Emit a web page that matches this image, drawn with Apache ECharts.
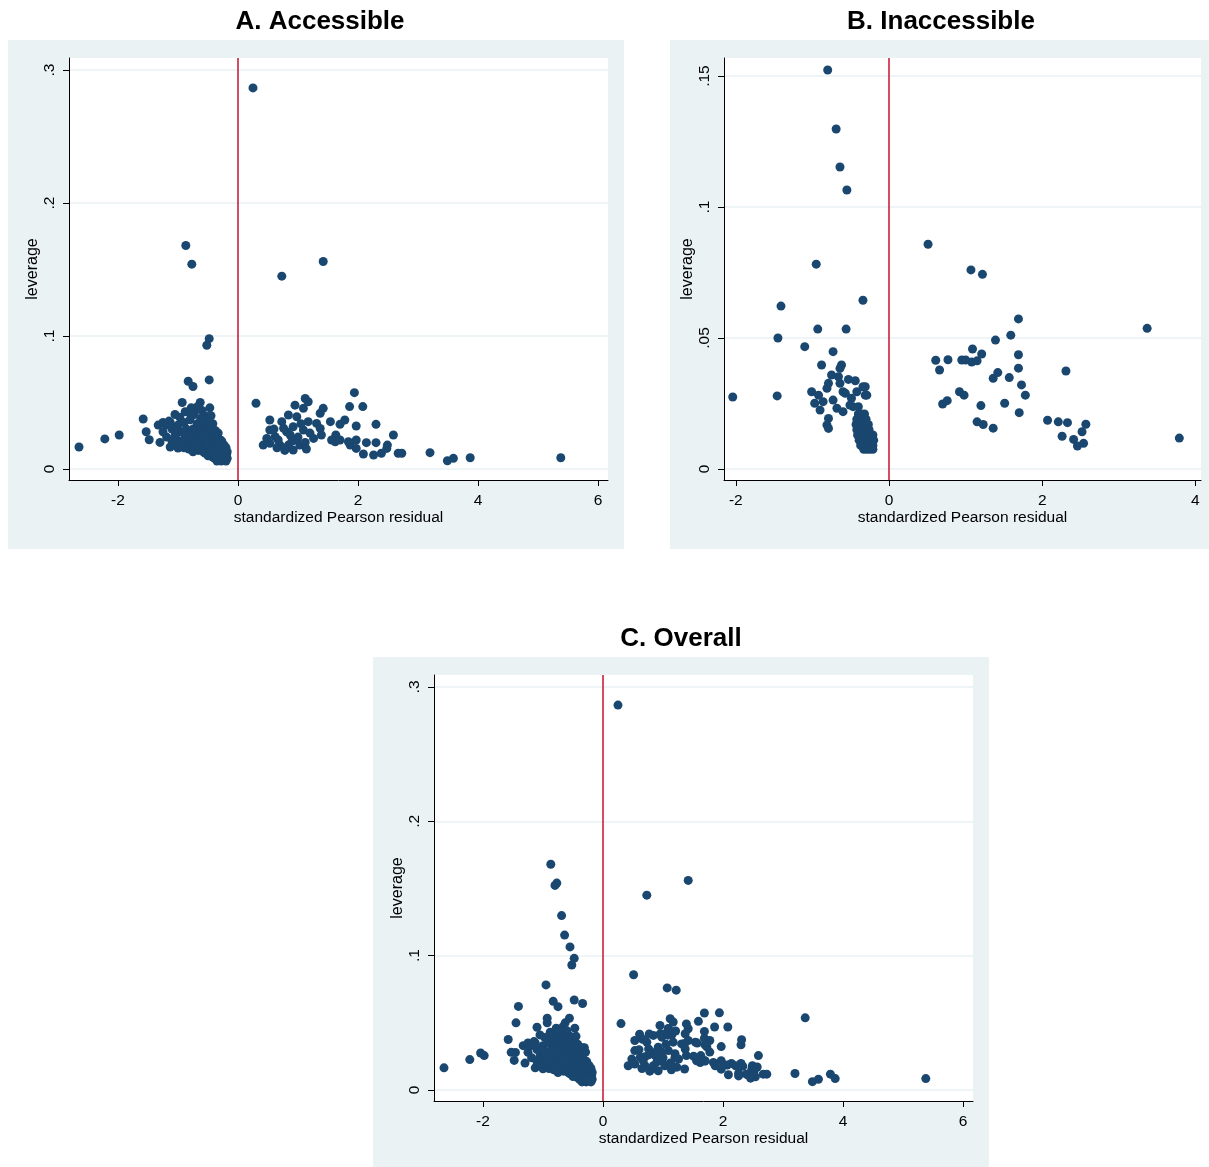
<!DOCTYPE html>
<html><head><meta charset="utf-8">
<script src="https://cdn.jsdelivr.net/npm/echarts@6/dist/echarts.min.js"></script>
<style>html,body{margin:0;padding:0;background:#fff}#c{width:1209px;height:1167px}</style>
</head><body><div id="c"></div>
<script>
// ---- Data (standardized Pearson residual, leverage) ----
const panelTitles = ['A. Accessible', 'B. Inaccessible', 'C. Overall'];
const xAxisTitle = 'standardized Pearson residual';
const yAxisTitle = 'leverage';

const xTicksA = [-2, 0, 2, 4, 6];
const xLabelsA = ['-2', '0', '2', '4', '6'];
const yTicksA = [0, 0.1, 0.2, 0.3];
const yLabelsA = ['0', '.1', '.2', '.3'];
const xTicksB = [-2, 0, 2, 4];
const xLabelsB = ['-2', '0', '2', '4'];
const yTicksB = [0, 0.05, 0.1, 0.15];
const yLabelsB = ['0', '.05', '.1', '.15'];

// Accessible: isolated points, left side
const accessibleLeft = [
  [-2.65,0.0165],[-2.22,0.0226],[-1.98,0.0256],[-1.58,0.0376],[-1.53,0.028],[-1.48,0.022],
  [-0.93,0.05],[-0.63,0.05],[-0.47,0.046],[-1.05,0.041],[-0.8,0.042],[-0.72,0.044],
  [-1.33,0.033],[-1.25,0.035],[-1.3,0.02],[-1.13,0.0165],[-1.0,0.0158],[-1.13,0.035],[-1.02,0.022],[-1.19,0.024],
  [-0.87,0.168],[-0.77,0.154],[-0.48,0.098],[-0.52,0.093],[-0.83,0.066],[-0.75,0.062],[-0.48,0.067]
];
// Accessible: dense cluster just left of zero
const accessibleCluster = [
  [-1.25,0.028],[-1.2,0.033],[-1.15,0.036],[-1.1,0.03],[-1.05,0.025],[-1.0,0.033],[-0.97,0.039],[-0.95,0.028],
  [-0.93,0.021],[-0.9,0.035],[-0.88,0.043],[-0.86,0.03],[-0.85,0.018],[-0.83,0.025],[-0.8,0.037],[-0.78,0.046],
  [-0.77,0.02],[-0.75,0.03],[-0.73,0.041],[-0.72,0.016],[-0.7,0.025],[-0.68,0.034],[-0.67,0.047],[-0.65,0.02],
  [-0.63,0.029],[-0.62,0.038],[-0.6,0.015],[-0.6,0.044],[-0.58,0.024],[-0.57,0.033],[-0.55,0.012],[-0.55,0.04],
  [-0.53,0.019],[-0.52,0.028],[-0.5,0.036],[-0.5,0.014],[-0.48,0.023],[-0.47,0.031],[-0.46,0.01],[-0.45,0.04],
  [-0.44,0.018],[-0.43,0.027],[-0.42,0.034],[-0.41,0.012],[-0.4,0.022],[-0.39,0.008],[-0.38,0.029],[-0.37,0.016],
  [-0.36,0.024],[-0.35,0.011],[-0.34,0.02],[-0.33,0.027],[-0.32,0.007],[-0.31,0.014],[-0.3,0.022],[-0.3,0.018],
  [-0.29,0.01],[-0.28,0.017],[-0.27,0.013],[-0.27,0.021],[-0.26,0.008],[-0.25,0.015],[-0.24,0.011],[-0.23,0.018],
  [-0.22,0.009],[-0.21,0.013],[-0.2,0.016],[-0.19,0.011],[-0.18,0.008],[-0.18,0.013],[-0.2,0.006],[-0.24,0.007],
  [-0.28,0.006],[-0.35,0.006],[-0.42,0.009],[-0.5,0.01],[-0.58,0.013],[-0.66,0.014],[-0.75,0.013],[-0.82,0.015],
  [-0.9,0.016],[-0.42,0.016],[-0.38,0.02],[-0.34,0.015],[-0.46,0.026],[-0.52,0.022],[-0.56,0.018],[-0.62,0.022],
  [-0.68,0.019],[-0.7,0.028],[-0.64,0.033],[-0.58,0.037],[-0.54,0.032],[-0.48,0.035],[-0.44,0.031],[-0.4,0.026],
  [-0.36,0.019],[-0.32,0.018],[-0.26,0.012],[-0.22,0.014],[-0.3,0.012],[-0.38,0.013],[-0.45,0.014],[-0.5,0.018],
  [-0.55,0.024],[-0.62,0.026],[-0.76,0.024],[-0.8,0.021],[-0.88,0.024],[-0.95,0.018],[-1.05,0.019],[-1.1,0.021],
  [-1.02,0.029]
];
// Accessible: right side
const accessibleRight = [
  [0.25,0.2865],[0.73,0.145],[1.42,0.156],[0.3,0.0494],
  [1.94,0.0574],[1.86,0.0469],[2.08,0.0469],[2.3,0.0336],[1.97,0.0323],[1.54,0.0356],[1.7,0.0336],[1.78,0.0368],
  [2.59,0.0256],[2.14,0.0198],[2.3,0.0198],[2.49,0.018],[2.09,0.0113],[2.26,0.0105],[2.39,0.0118],[2.67,0.0118],
  [1.63,0.0256],[1.62,0.0205],[1.7,0.0218],[1.84,0.0205],[1.97,0.0218],[1.97,0.0155],[1.87,0.018],[1.56,0.0218],
  [2.48,0.0155],[2.73,0.0118],[3.2,0.0123],[3.49,0.0062],[3.59,0.008],[3.87,0.0085],[5.38,0.0085],
  [1.12,0.053],[1.17,0.0506],[0.95,0.048],[1.09,0.0456],[1.42,0.0456],[1.37,0.0419],[0.84,0.0406],[0.98,0.0393],
  [0.53,0.0368],[0.73,0.0356],[1.17,0.0356],[1.31,0.0343],[0.92,0.0318],[1.09,0.0293],[1.37,0.0305],[0.53,0.0293],
  [0.81,0.028],[0.87,0.0256],[1.26,0.023],[1.39,0.0256],[0.48,0.023],[0.62,0.0243],[0.42,0.018],[0.53,0.0193],
  [0.7,0.018],[0.84,0.018],[0.92,0.0143],[1.03,0.018],[0.67,0.0218],[0.98,0.0218],[0.76,0.0306],[1.0,0.024],
  [1.12,0.02],[1.2,0.027],[0.6,0.03],[0.9,0.021],[1.05,0.034],[0.65,0.016],[1.14,0.015],[0.78,0.014]
];

// Inaccessible: left side (scattered)
const inaccessibleLeft = [
  [-2.04,0.0275],[-1.41,0.0622],[-1.45,0.05],[-1.46,0.0279],[-0.95,0.0782],[-0.93,0.0534],[-0.56,0.0534],
  [-0.34,0.0644],[-0.8,0.1523],[-0.69,0.1298],[-0.64,0.1153],[-0.55,0.1065],
  [-1.1,0.0467],[-0.73,0.0448],[-0.88,0.0397],[-0.62,0.0397],[-0.64,0.0384],[-0.75,0.0359],[-0.66,0.0352],
  [-0.53,0.0342],[-0.44,0.0337],[-0.79,0.0327],[-0.81,0.0308],[-0.64,0.0327],[-0.6,0.0295],[-1.01,0.0295],
  [-0.92,0.0282],[-0.73,0.0263],[-0.86,0.0257],[-0.97,0.0251],[-0.9,0.0225],[-0.68,0.0232],[-0.79,0.0193],
  [-0.81,0.0168],[-0.79,0.0155],[-0.57,0.0289],[-0.51,0.0244],
  [-0.42,0.0295],[-0.31,0.0282],[-0.49,0.027],[-0.47,0.0238],[-0.34,0.0314],[-0.6,0.0219],[-0.31,0.0314],
  [-0.29,0.0282],[-0.4,0.0238]
];
// Inaccessible: dense strip just left of zero
const inaccessibleCluster = [
  [-0.4,0.021],[-0.36,0.021],[-0.32,0.021],
  [-0.42,0.019],[-0.38,0.019],[-0.34,0.019],[-0.3,0.019],
  [-0.43,0.017],[-0.39,0.017],[-0.35,0.017],[-0.31,0.017],[-0.27,0.017],
  [-0.42,0.015],[-0.38,0.015],[-0.34,0.015],[-0.3,0.015],[-0.26,0.015],
  [-0.41,0.013],[-0.37,0.013],[-0.33,0.013],[-0.29,0.013],[-0.25,0.013],[-0.21,0.013],
  [-0.39,0.011],[-0.35,0.011],[-0.31,0.011],[-0.27,0.011],[-0.23,0.011],[-0.2,0.011],
  [-0.37,0.009],[-0.33,0.009],[-0.29,0.009],[-0.25,0.009],[-0.21,0.009],
  [-0.33,0.0075],[-0.29,0.0075],[-0.25,0.0075],[-0.21,0.0075]
];
// Inaccessible: right side
const inaccessibleRight = [
  [0.51,0.0858],[1.07,0.076],[1.22,0.0743],[1.69,0.0573],[1.59,0.0511],[1.39,0.0492],[3.37,0.0537],
  [1.09,0.0458],[1.21,0.0439],[0.61,0.0415],[0.77,0.0417],[0.95,0.0416],[1.0,0.0416],[1.08,0.0408],[1.15,0.0413],
  [0.66,0.0378],[1.69,0.0436],[1.69,0.0385],[2.31,0.0374],[1.42,0.0368],[1.36,0.0346],[1.57,0.0349],[1.73,0.0321],
  [1.78,0.0282],[0.92,0.0295],[0.98,0.0282],[0.7,0.0248],[0.76,0.0261],[1.2,0.0242],[1.51,0.0251],[1.7,0.0215],
  [1.15,0.018],[1.23,0.017],[1.36,0.0156],[2.07,0.0186],[2.21,0.018],[2.33,0.0177],[2.57,0.0171],[2.52,0.0142],
  [2.26,0.0125],[2.41,0.0113],[2.54,0.0098],[2.46,0.0088],[3.79,0.0118]
];

const accessible = accessibleLeft.concat(accessibleCluster, accessibleRight);
const inaccessible = inaccessibleLeft.concat(inaccessibleCluster, inaccessibleRight);
const overall = accessible.concat(inaccessible);

// ---- Styling / layout ----
const FONT = 'Liberation Sans, Arial, Helvetica, sans-serif';
const BG = '#eaf2f3';
const NAVY = '#1a476f';
const RED = '#c8102e';

function labeler(ticks, labels) {
  return function (v) {
    for (let i = 0; i < ticks.length; i++) if (Math.abs(ticks[i] - v) < 1e-9) return labels[i];
    return '';
  };
}
function xAxisCfg(gi, min, max, ticks, labels) {
  return {
    gridIndex: gi, type: 'value', min: min, max: max,
    name: xAxisTitle, nameLocation: 'middle', nameGap: 30,
    nameTextStyle: { fontFamily: FONT, fontSize: 15.5, color: '#000' },
    axisLine: { show: true, onZero: false, lineStyle: { color: '#000', width: 1 } },
    axisTick: { show: true, length: 6, customValues: ticks, lineStyle: { color: '#000' } },
    axisLabel: { customValues: ticks, formatter: labeler(ticks, labels), margin: 13,
      fontFamily: FONT, fontSize: 15.5, color: '#000' },
    splitLine: { show: false }
  };
}
function yAxisCfg(gi, min, max, ticks, labels) {
  return {
    gridIndex: gi, type: 'value', min: min, max: max,
    name: yAxisTitle, nameLocation: 'middle', nameGap: 28, nameRotate: 90,
    nameTextStyle: { fontFamily: FONT, fontSize: 16, color: '#000' },
    axisLine: { show: true, onZero: false, lineStyle: { color: '#000', width: 1 } },
    axisTick: { show: true, length: 6, customValues: ticks, lineStyle: { color: '#000' } },
    axisLabel: { customValues: ticks, formatter: labeler(ticks, labels), margin: 11, rotate: 90,
      fontFamily: FONT, fontSize: 15.5, color: '#000' },
    splitLine: { show: true, lineStyle: { color: BG, width: 1.5 } }
  };
}
function scatterCfg(i, data) {
  return {
    type: 'scatter', xAxisIndex: i, yAxisIndex: i, data: data,
    symbol: 'circle', symbolSize: 9, itemStyle: { color: NAVY, opacity: 1 },
    silent: true, animation: false, z: 3,
    markLine: { silent: true, symbol: 'none', animation: false, label: { show: false },
      lineStyle: { color: RED, width: 1.5, type: 'solid' }, data: [{ xAxis: 0 }] }
  };
}
function titleText(txt, x, y) {
  return { type: 'text', z: 10, silent: true, x: x, y: y,
    style: { text: txt, fill: '#000', font: 'bold 26px ' + FONT, align: 'center', verticalAlign: 'middle' } };
}

const chart = echarts.init(document.getElementById('c'), null, { renderer: 'canvas' });
chart.setOption({
  animation: false,
  backgroundColor: '#fff',
  graphic: [
    { type: 'rect', z: -100, silent: true, shape: { x: 8, y: 40, width: 616, height: 509 }, style: { fill: BG } },
    { type: 'rect', z: -100, silent: true, shape: { x: 670, y: 40, width: 539, height: 509 }, style: { fill: BG } },
    { type: 'rect', z: -100, silent: true, shape: { x: 373, y: 657, width: 616, height: 510 }, style: { fill: BG } },
    titleText(panelTitles[0], 320, 22),
    titleText(panelTitles[1], 941, 22),
    titleText(panelTitles[2], 681, 639)
  ],
  grid: [
    { left: 69, top: 58, width: 539, height: 422, show: true, backgroundColor: '#fff', borderWidth: 0 },
    { left: 724, top: 58, width: 477, height: 422, show: true, backgroundColor: '#fff', borderWidth: 0 },
    { left: 434, top: 675, width: 539, height: 426, show: true, backgroundColor: '#fff', borderWidth: 0 }
  ],
  xAxis: [
    xAxisCfg(0, -2.8167, 6.1667, xTicksA, xLabelsA),
    xAxisCfg(1, -2.154, 4.073, xTicksB, xLabelsB),
    xAxisCfg(2, -2.8167, 6.1667, xTicksA, xLabelsA)
  ],
  yAxis: [
    yAxisCfg(0, -0.00827, 0.309, yTicksA, yLabelsA),
    yAxisCfg(1, -0.0042, 0.1569, yTicksB, yLabelsB),
    yAxisCfg(2, -0.0082, 0.3089, yTicksA, yLabelsA)
  ],
  series: [
    scatterCfg(0, accessible),
    scatterCfg(1, inaccessible),
    scatterCfg(2, overall)
  ]
});
</script></body></html>
